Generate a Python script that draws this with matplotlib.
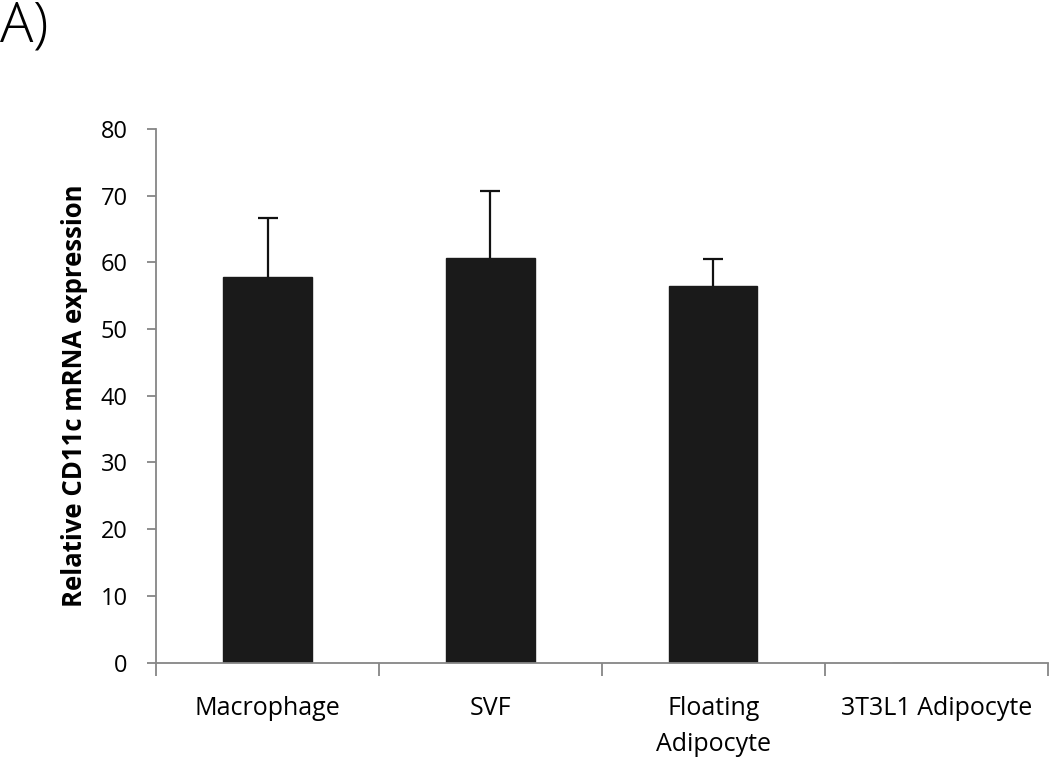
import matplotlib
matplotlib.use("Agg")
import matplotlib.pyplot as plt
import numpy as np

categories = ["Macrophage", "SVF", "Floating\nAdipocyte", "3T3L1 Adipocyte"]
values = [57.8, 60.6, 56.5, 0.0]
errors = [8.8, 10.1, 4.0, 0.0]
yticks = [0, 10, 20, 30, 40, 50, 60, 70, 80]

plt.rcParams['font.family'] = ['Open Sans', 'DejaVu Sans']

fig = plt.figure(figsize=(10.5, 7.59), dpi=100)
ax = fig.add_axes([0.1486, 0.1271, 0.8494, 0.703])

x = np.arange(len(categories))
ax.bar(x, values, width=0.395, color='#1a1a1a', edgecolor='#1a1a1a', zorder=2)
n = 3
_, caps, _ = ax.errorbar(x[:n], values[:n], yerr=[np.zeros(n), errors[:n]], fmt='none',
                         ecolor='#111111', elinewidth=1.6, capsize=7.5, capthick=1.6, zorder=3)
caps[0].set_visible(False)

ax.set_xlim(-0.5, 3.5)
ax.set_ylim(0, 80)
ax.set_yticks(yticks)
ax.set_yticklabels([str(v) for v in yticks], fontsize=17)
ax.set_xticks(x)
ax.set_xticklabels(categories, fontsize=18, linespacing=1.6)
ax.set_xticks(np.arange(-0.5, 4.0, 1.0), minor=True)
ax.tick_params(axis='x', which='major', length=0, pad=24)
ax.tick_params(axis='x', which='minor', length=9, width=1.3, color='#868686')
ax.tick_params(axis='y', length=6.5, width=1.3, color='#868686', pad=14)

for s in ['top', 'right']:
    ax.spines[s].set_visible(False)
for s in ['left', 'bottom']:
    ax.spines[s].set_color('#868686')
    ax.spines[s].set_linewidth(1.3)

ax.set_ylabel("Relative CD11c mRNA expression", fontsize=18.5, fontweight='bold', labelpad=9)

fig.text(0.0, 1.0, "A)", fontsize=40, fontweight='light', va='top', ha='left')

fig.savefig("out.png", dpi=100)
